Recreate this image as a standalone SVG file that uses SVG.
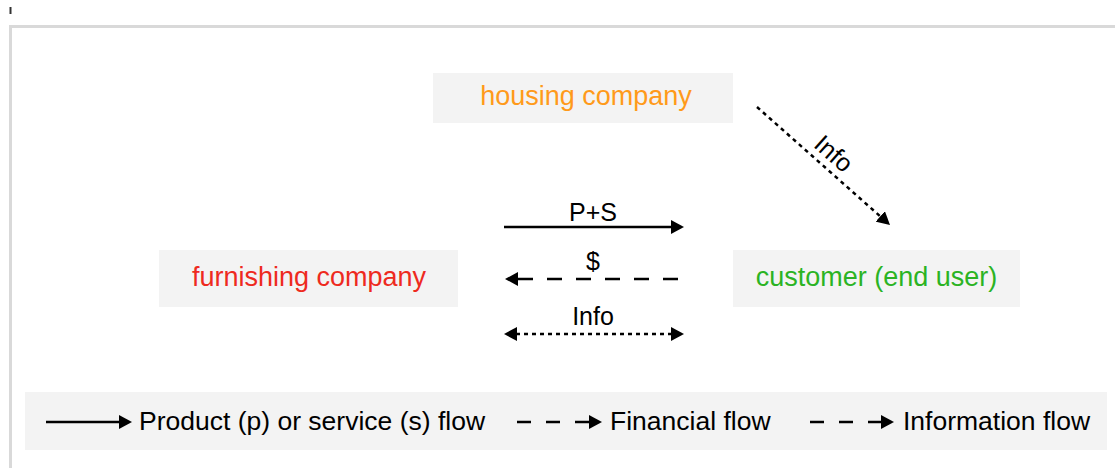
<svg xmlns="http://www.w3.org/2000/svg" width="1115" height="468" viewBox="0 0 1115 468">
<style>
.box{fill:#f3f3f3}
.nt{font-family:"Liberation Sans",Arial,sans-serif;font-size:27px;text-anchor:middle}
.lbl{font-family:"Liberation Sans",Arial,sans-serif;font-size:25px;fill:#000;text-anchor:middle}
.leg{font-family:"Liberation Sans",Arial,sans-serif;font-size:26.5px;fill:#000}
.ln{stroke:#000;stroke-width:2.5;fill:none}
.dash{stroke-dasharray:15 14}
.dot{stroke-dasharray:4 4}
</style>
<defs>
<marker id="ah" markerUnits="userSpaceOnUse" markerWidth="14" markerHeight="14" refX="1" refY="7" orient="auto-start-reverse" viewBox="0 0 14 14">
<path d="M0,0 L13,7 L0,14 z" fill="#000"/>
</marker>
</defs>
<rect x="0" y="0" width="1115" height="468" fill="#fff"/>
<g id="frame">
<line x1="9" y1="26.5" x2="1115" y2="26.5" stroke="#d9d9d9" stroke-width="3"/>
<line x1="10.5" y1="25" x2="10.5" y2="468" stroke="#d9d9d9" stroke-width="3"/>
<line x1="10.5" y1="7" x2="10.5" y2="14" stroke="#333" stroke-width="2"/>
</g>
<g id="housing">
<rect class="box" x="433" y="73" width="300" height="50"/>
<text class="nt" x="586" y="105" fill="#FF9A1A">housing company</text>
</g>
<g id="furnishing">
<rect class="box" x="159" y="250" width="299" height="57"/>
<text class="nt" x="309" y="286" fill="#EE2A1E">furnishing company</text>
</g>
<g id="customer">
<rect class="box" x="733" y="250" width="287" height="57"/>
<text class="nt" x="876.5" y="286" fill="#2BB323">customer (end user)</text>
</g>
<g id="connectors">
<path class="ln" d="M504,227 L672,227" marker-end="url(#ah)"/>
<text class="lbl" x="593" y="221">P+S</text>
<path class="ln dash" d="M678,279 L517,279" marker-end="url(#ah)"/>
<text class="lbl" x="593" y="270">$</text>
<path class="ln dot" d="M516,334 L672,334" marker-start="url(#ah)" marker-end="url(#ah)"/>
<text class="lbl" x="593" y="325">Info</text>
<path class="ln dot" d="M757,107 L881,217" marker-end="url(#ah)"/>
<text class="lbl" transform="translate(828,160) rotate(41.6)" x="0" y="0">Info</text>
</g>
<g id="legend">
<rect class="box" x="25" y="392" width="1082" height="58"/>
<path class="ln" d="M46,422 L120,422" marker-end="url(#ah)"/>
<text class="leg" x="139" y="430">Product (p) or service (s) flow</text>
<path class="ln" d="M517,422 L590,422" stroke-dasharray="14 15" marker-end="url(#ah)"/>
<text class="leg" x="610" y="430">Financial flow</text>
<path class="ln" d="M810,422 L882,422" stroke-dasharray="14 15" marker-end="url(#ah)"/>
<text class="leg" x="903" y="430">Information flow</text>
</g>
</svg>
